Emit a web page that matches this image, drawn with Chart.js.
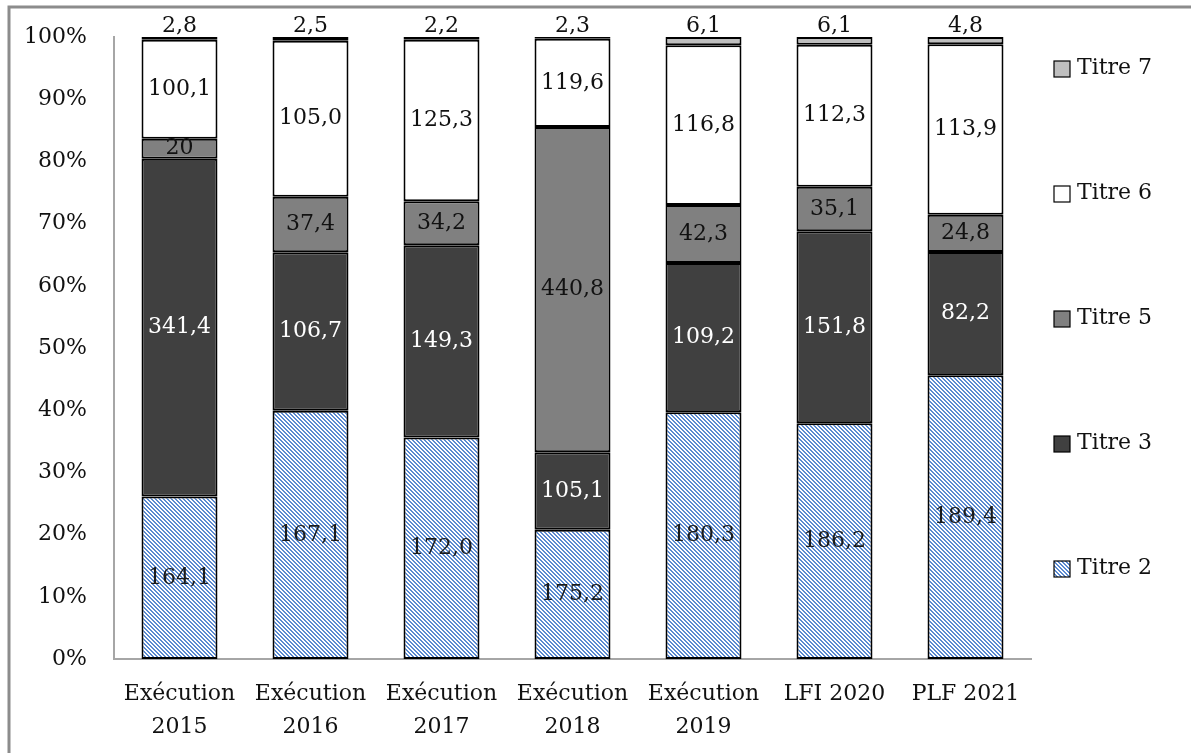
<!DOCTYPE html>
<html>
<head>
<meta charset="utf-8">
<script src="https://cdn.jsdelivr.net/npm/chart.js@4/dist/chart.umd.min.js"></script>
<style>
  html, body { margin: 0; padding: 0; background: #fff; }
  #wrap { position: relative; width: 1191px; height: 753px; }
</style>
</head>
<body>
<div id="wrap"><canvas id="chart" width="1191" height="753"></canvas></div>
<script>
// values as printed on the picture (M€)
const categories = [['Exécution', '2015'], ['Exécution', '2016'], ['Exécution', '2017'], ['Exécution', '2018'], ['Exécution', '2019'], ['LFI 2020'], ['PLF 2021']];
const titre2 = ['164,1', '167,1', '172,0', '175,2', '180,3', '186,2', '189,4'];
const titre3 = ['341,4', '106,7', '149,3', '105,1', '109,2', '151,8', '82,2'];
const titre5 = ['20', '37,4', '34,2', '440,8', '42,3', '35,1', '24,8'];
const titre6 = ['100,1', '105,0', '125,3', '119,6', '116,8', '112,3', '113,9'];
const titre7 = ['2,8', '2,5', '2,2', '2,3', '6,1', '6,1', '4,8'];
const yTicks = [0, 10, 20, 30, 40, 50, 60, 70, 80, 90, 100];

const FONT = 'DejaVu Serif';
const num = s => parseFloat(s.replace(',', '.'));
const totals = categories.map((c, i) =>
    [titre2, titre3, titre5, titre6, titre7].reduce((a, s) => a + num(s[i]), 0));
const pct = arr => arr.map((s, i) => num(s) / totals[i] * 100);

// blue diagonal hatch for Titre 2 (crisp pixel stripes)
function hatch() {
    const p = document.createElement('canvas');
    p.width = 4; p.height = 4;
    const c = p.getContext('2d');
    c.fillStyle = '#fff';
    c.fillRect(0, 0, 4, 4);
    c.fillStyle = '#5b8ad0';
    for (let y = 0; y < 4; y++) {
        for (let x = 0; x < 4; x++) {
            const d = ((x - y) % 4 + 4) % 4;
            if (d < 2) c.fillRect(x, y, 1, 1);
        }
    }
    return c.createPattern(p, 'repeat');
}
const hatchFill = hatch();

const series = [
    { label: 'Titre 2', raw: titre2, bg: hatchFill, text: '#1a1a1a' },
    { label: 'Titre 3', raw: titre3, bg: '#404040', text: '#ffffff' },
    { label: 'Titre 5', raw: titre5, bg: '#808080', text: '#111111' },
    { label: 'Titre 6', raw: titre6, bg: '#ffffff', text: '#111111' },
    { label: 'Titre 7', raw: titre7, bg: '#bfbfbf', text: '#111111', above: true }
];

// labels inside each segment (Titre 7 sits on top of the bar)
const segLabels = {
    id: 'segLabels',
    afterDatasetsDraw(chart) {
        const ctx = chart.ctx;
        ctx.save();
        ctx.font = '22px "' + FONT + '"';
        ctx.textAlign = 'center';
        ctx.textBaseline = 'middle';
        chart.data.datasets.forEach((ds, di) => {
            const meta = chart.getDatasetMeta(di);
            meta.data.forEach((bar, i) => {
                const y = ds.above ? bar.y - 11 : (bar.y + bar.base) / 2;
                ctx.fillStyle = ds.textColor;
                ctx.fillText(ds.raw[i], bar.x, y);
            });
        });
        ctx.restore();
    }
};

// legend on the right, widely spaced, reversed order
const sideLegend = {
    id: 'sideLegend',
    afterDraw(chart) {
        const ctx = chart.ctx;
        ctx.save();
        ctx.font = '22px "' + FONT + '"';
        ctx.textBaseline = 'middle';
        const items = chart.data.datasets.slice().reverse();
        items.forEach((ds, k) => {
            const y = 68 + k * 125;
            ctx.fillStyle = ds.backgroundColor;
            ctx.fillRect(1054, y - 7, 16, 16);
            ctx.strokeStyle = '#000';
            ctx.lineWidth = 1.2;
            ctx.strokeRect(1054, y - 7, 16, 16);
            ctx.fillStyle = '#111';
            ctx.fillText(ds.label, 1077, y);
        });
        ctx.restore();
    }
};

// grey frame (only top and left edges are inside the picture)
const frame = {
    id: 'frame',
    afterDraw(chart) {
        const ctx = chart.ctx;
        ctx.save();
        ctx.strokeStyle = '#8c8c8c';
        ctx.lineWidth = 3;
        ctx.beginPath();
        ctx.moveTo(9, 753);
        ctx.lineTo(9, 7);
        ctx.lineTo(1191, 7);
        ctx.stroke();
        ctx.restore();
    }
};

new Chart(document.getElementById('chart').getContext('2d'), {
    type: 'bar',
    data: {
        labels: categories,
        datasets: series.map(s => ({
            label: s.label,
            data: pct(s.raw),
            raw: s.raw,
            above: !!s.above,
            textColor: s.text,
            backgroundColor: s.bg,
            borderColor: '#000',
            borderWidth: 2,
            borderSkipped: false,
            barPercentage: 0.58,
            categoryPercentage: 1
        }))
    },
    options: {
        responsive: false,
        animation: false,
        layout: { padding: { top: 37, right: 160, left: 0, bottom: 0 } },
        plugins: {
            legend: { display: false },
            tooltip: { enabled: false }
        },
        scales: {
            x: {
                stacked: true,
                grid: { display: false },
                border: { display: true, color: '#a6a6a6', width: 2 },
                ticks: {
                    color: '#111',
                    font: { family: FONT, size: 22, lineHeight: 1.5 },
                    padding: 11,
                    maxRotation: 0
                },
                afterFit: s => { s.height = 94; }
            },
            y: {
                stacked: true,
                min: 0,
                max: 100,
                grid: { display: false },
                border: { display: true, color: '#a6a6a6', width: 2 },
                afterBuildTicks: s => { s.ticks = yTicks.map(v => ({ value: v })); },
                ticks: {
                    color: '#111',
                    font: { family: FONT, size: 22 },
                    padding: 19,
                    callback: v => v + '%'
                },
                afterFit: s => { s.width = 114; }
            }
        }
    },
    plugins: [segLabels, sideLegend, frame]
});
</script>
</body>
</html>
